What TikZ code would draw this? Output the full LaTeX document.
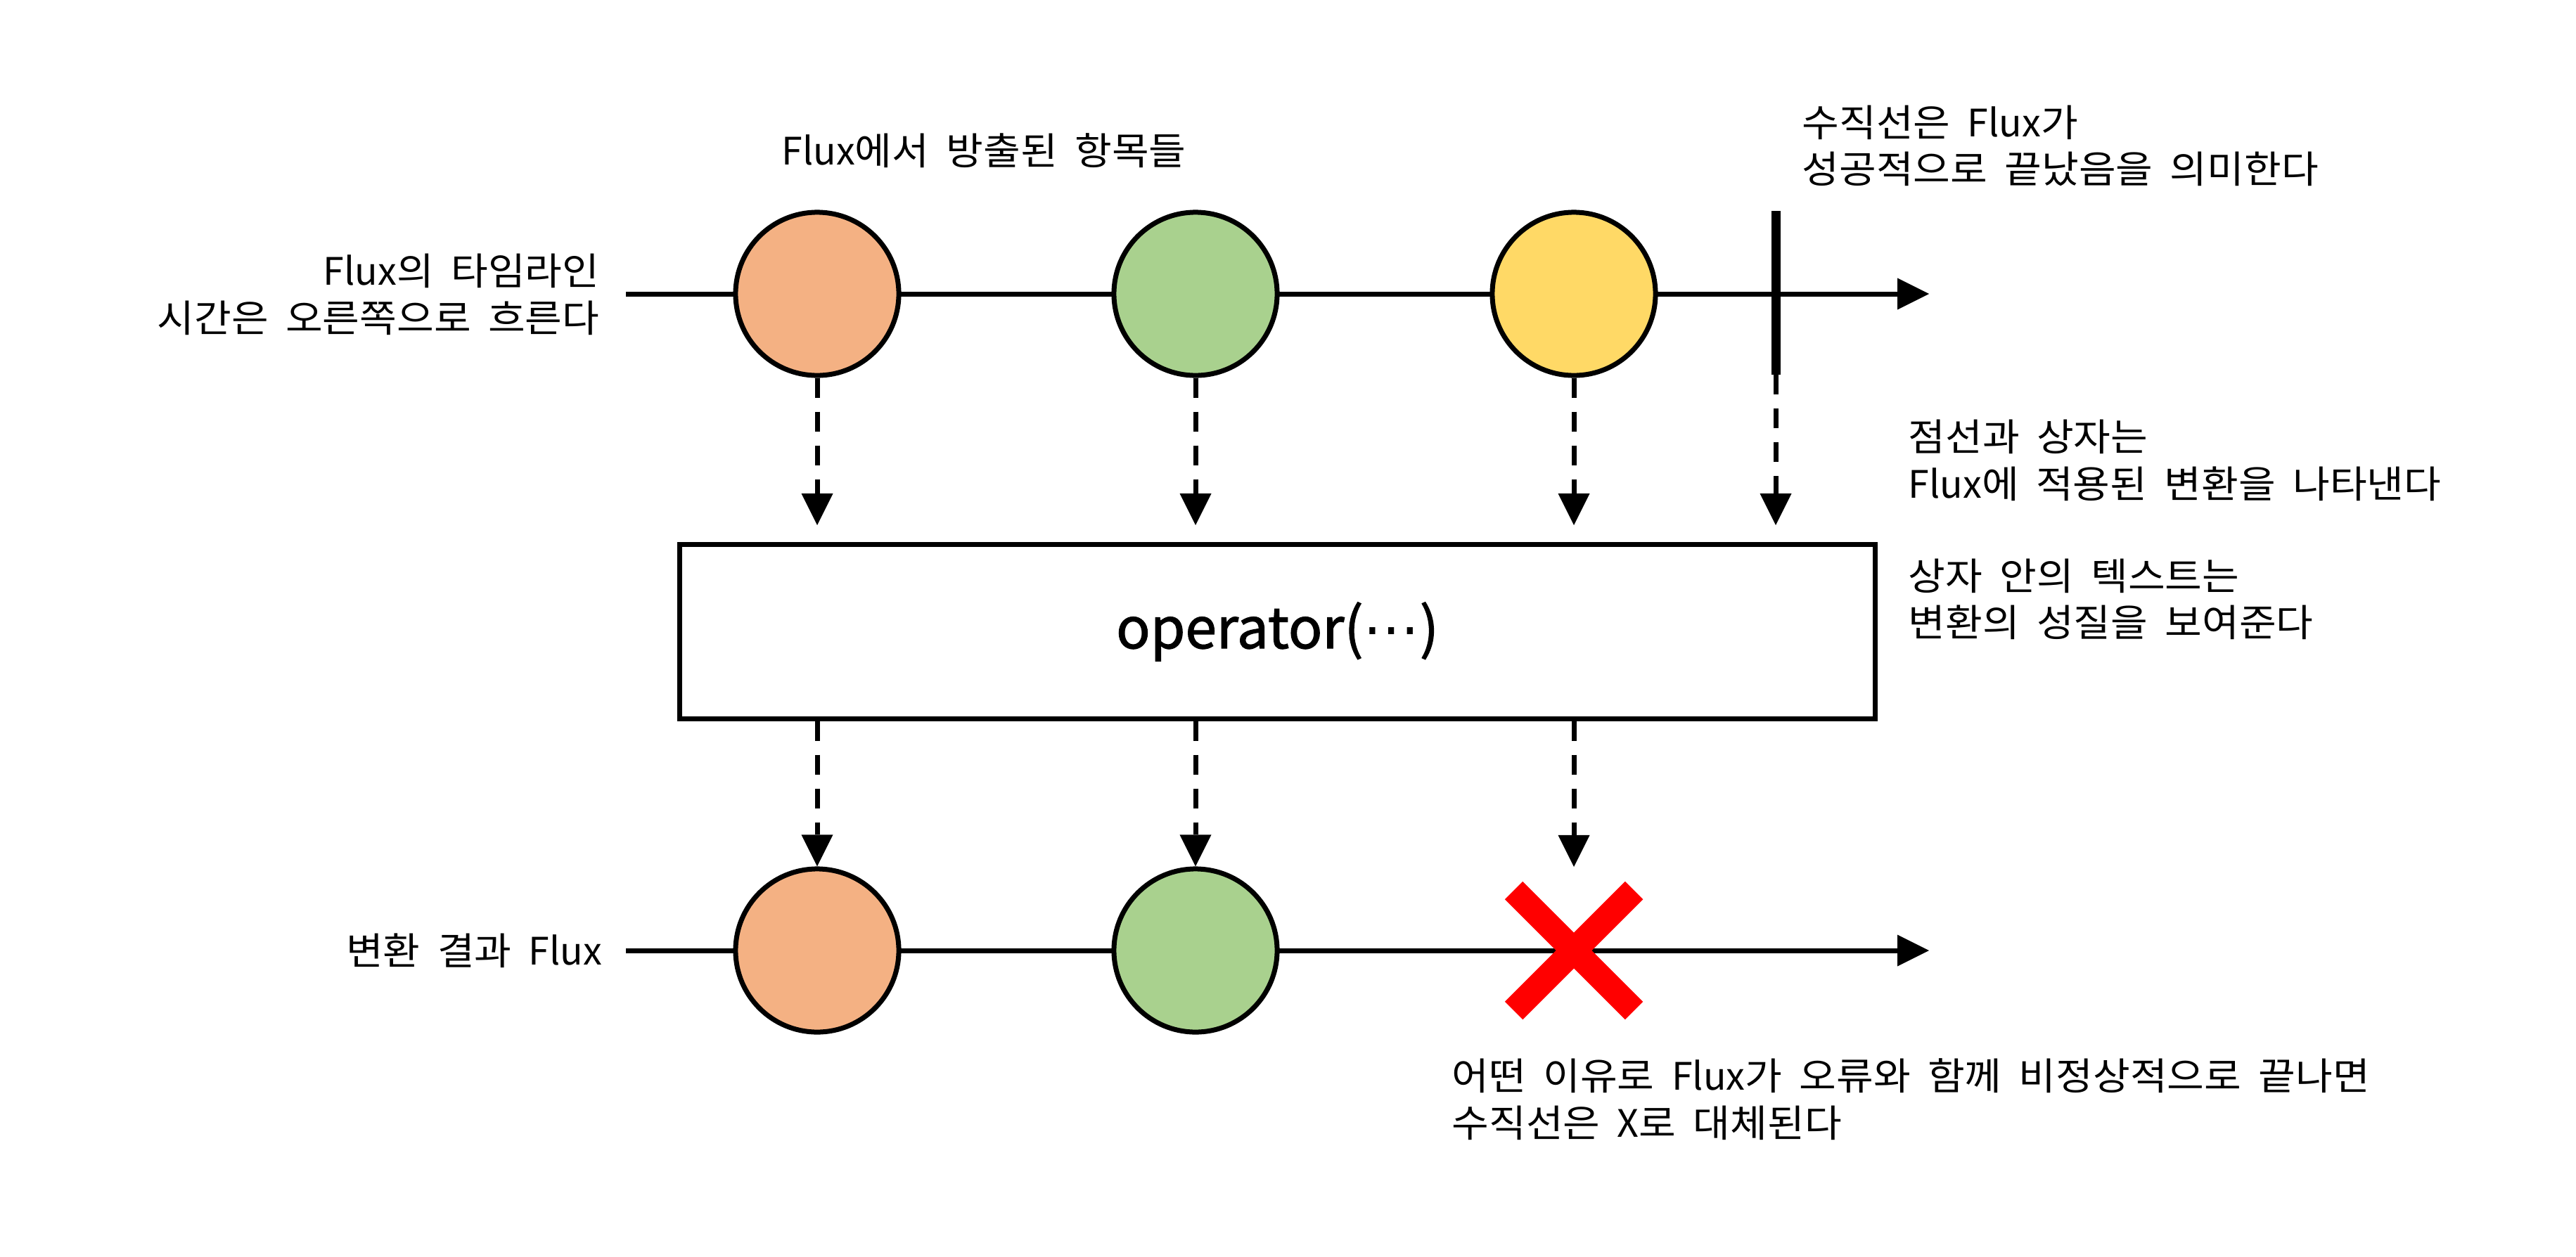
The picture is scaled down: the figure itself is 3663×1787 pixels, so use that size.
\documentclass[tikz,border=0pt]{standalone}
\usepackage{fontspec}
\setmainfont{Noto Sans CJK KR}[WordSpace=1.9, FakeStretch=1.065]
\newfontfamily\latfont{Noto Sans CJK KR}[WordSpace=2.0]
\newfontfamily\opfont{Noto Sans CJK KR}[FakeBold=1.5]
\newfontfamily\dotsfont{DejaVu Sans}
\usetikzlibrary{arrows.meta}
\definecolor{orangeC}{HTML}{F4B183}
\definecolor{greenC}{HTML}{A9D18E}
\definecolor{yellowC}{HTML}{FFD966}
\begin{document}
\begin{tikzpicture}[x=0.01cm,y=-0.01cm,
  lbl/.style={inner sep=0pt, font=\fontsize{15.3pt}{18.92pt}\selectfont},
  item/.style={circle, draw=black, line width=0.07cm, minimum size=2.32cm, inner sep=0pt},
  tip/.style={-{Triangle[length=0.45cm,width=0.45cm,line width=0pt]}},
  timeline/.style={line width=0.07cm, tip},
  flow/.style={line width=0.07cm, dash pattern=on 0.28cm off 0.2cm, tip},
  crossarm/.style={red, line width=0.36cm, line cap=butt}]
\useasboundingbox (0,0) rectangle (3663,1787);

% top timeline
\coordinate (t1s) at (890,418);
\coordinate (t1e) at (2743,418);
\draw[timeline] (t1s) -- (t1e);
\node[item, fill=orangeC] (a1) at (1162,418) {};
\node[item, fill=greenC]  (b1) at (1700,418) {};
\node[item, fill=yellowC] (c1) at (2238,418) {};
\coordinate (bart) at (2525,300);
\coordinate (barb) at (2525,533);
\draw[line width=0.13cm] (bart) -- (barb);

% operator box
\node[draw, line width=0.07cm, minimum width=16.99cm, minimum height=2.47cm, inner sep=0pt,
      font=\opfont\fontsize{22.8pt}{27pt}\selectfont] (op) at (1816.5,898.5) {operator({\dotsfont ⋯})};

% arrows into the box
\coordinate (a1in) at (1162,747);
\coordinate (b1in) at (1700,747);
\coordinate (c1in) at (2238,747);
\coordinate (barin) at (2525,747);
\draw[flow] (a1.south) -- (a1in);
\draw[flow] (b1.south) -- (b1in);
\draw[flow] (c1.south) -- (c1in);
\draw[flow] (barb) -- (barin);

% bottom timeline
\coordinate (t2s) at (890,1352);
\coordinate (t2e) at (2743,1352);
\draw[timeline] (t2s) -- (t2e);
\node[item, fill=orangeC] (a2) at (1162,1352) {};
\node[item, fill=greenC]  (b2) at (1700,1352) {};
\coordinate (xin) at (2238,1233);
\draw[crossarm] (2152.5,1266.5) -- (2323.5,1437.5);
\draw[crossarm] (2323.5,1266.5) -- (2152.5,1437.5);

% arrows out of the box
\draw[flow] (a1 |- op.south) -- (a2.north);
\draw[flow] (b1 |- op.south) -- (b2.north);
\draw[flow] (c1 |- op.south) -- (xin);

% labels
\node[lbl, align=right, anchor=east] (ltime) at (853,419) {{\latfont Flux}의 타임라인\\시간은 오른쪽으로 흐른다};
\node[lbl, anchor=center] (lemit) at (1399,214) {{\latfont Flux}에서 방출된 항목들};
\node[lbl, align=left, anchor=west] (lbar) at (2562,207.5) {수직선은 {\latfont Flux}가\\성공적으로 끝났음을 의미한다};
\node[lbl, align=left, anchor=west] (ldash) at (2713,655) {점선과 상자는\\{\latfont Flux}에 적용된 변환을 나타낸다};
\node[lbl, align=left, anchor=west] (lbox) at (2713,852.5) {상자 안의 텍스트는\\변환의 성질을 보여준다};
\node[lbl, anchor=east] (lres) at (857,1352) {변환 결과 {\latfont Flux}};
\node[lbl, align=left, anchor=west] (lerr) at (2064,1563.5) {어떤 이유로 {\latfont Flux}가 오류와 함께 비정상적으로 끝나면\\수직선은 {\latfont X}로 대체된다};
\end{tikzpicture}
\end{document}
